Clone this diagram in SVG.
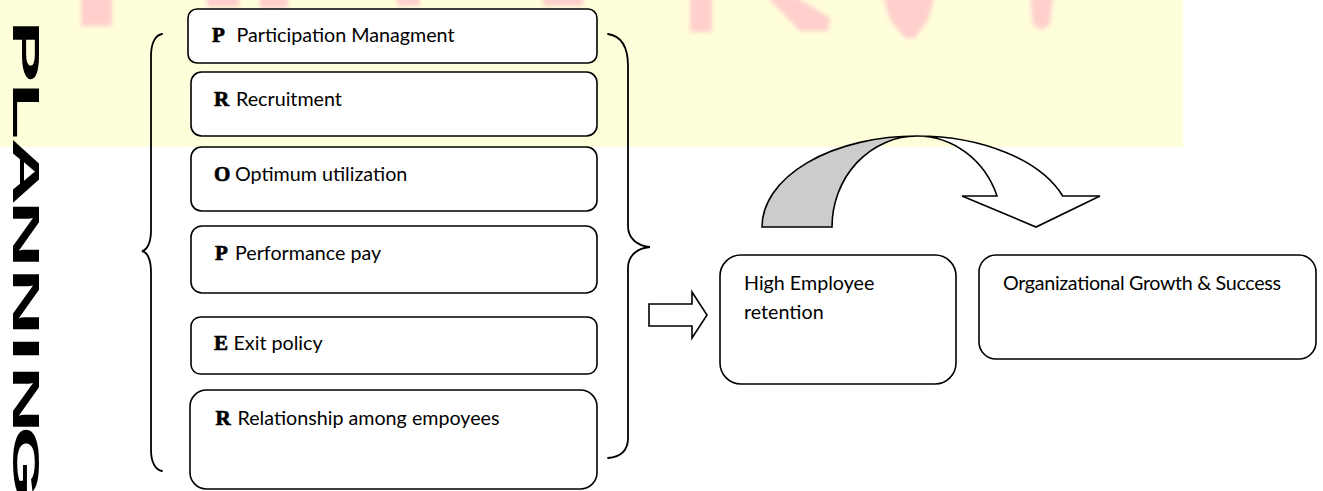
<svg xmlns="http://www.w3.org/2000/svg" width="1323" height="491" viewBox="0 0 1323 491">
  <defs>
    <filter id="soft" x="-50%" y="-50%" width="200%" height="200%">
      <feGaussianBlur stdDeviation="2.2"/>
    </filter>
    <style>
      .box { fill: #ffffff; stroke: #000000; stroke-width: 1.6; }
      .lbl { font-family: Lato, "Liberation Sans", sans-serif; font-size: 19.7px; fill: #000000; }
      .ini { font-family: "Liberation Serif", "DejaVu Serif", serif; font-weight: bold; font-size: 21px; fill: #000000; stroke: #000000; stroke-width: 0.7; }
      .brace { fill: none; stroke: #000000; stroke-width: 1.8; stroke-linecap: round; }
      .shape { stroke: #000000; stroke-width: 1.6; stroke-linejoin: miter; }
      .title { font-family: "Liberation Sans", Arial, sans-serif; font-weight: bold; font-size: 36px; fill: #000000; }
    </style>
  </defs>

  <!-- page background with the pale yellow header band -->
  <rect width="1323" height="491" fill="#ffffff"/>
  <rect x="0" y="0" width="1183" height="147" fill="#fffedb"/>

  <!-- faint pink marks along the top edge -->
  <g fill="#ffcaca" opacity="0.9" filter="url(#soft)">
    <rect x="81" y="-4" width="31" height="30"/>
    <rect x="207" y="-4" width="32" height="11"/>
    <rect x="260" y="-4" width="28" height="12"/>
    <rect x="397" y="-4" width="23" height="10"/>
    <rect x="543" y="-4" width="40" height="10"/>
    <rect x="690" y="-4" width="22" height="36"/>
    <polygon points="766,-4 795,-4 830,18 828,31 800,31"/>
    <polygon points="883,-4 935,-4 928,20 915,38 905,38 890,20"/>
    <polygon points="1030,-4 1053,-4 1050,25 1041,30 1033,25"/>
  </g>

  <!-- vertical title, stretched along its baseline, one position per letter -->
  <text id="title" class="title" transform="translate(13,0) rotate(90) scale(2.6,1)" x="7.65 31.62 52.96 77.08 103.04 129.04 140.54 163.81" y="0">PLANNING</text>

  <!-- curly braces round the list -->
  <g id="braces">
    <path class="brace" d="M162,34 C156,35 151,42 151,56 L151,230 C151,243 147,250 142,251 C147,252 151,259 151,272 L151,450 C151,463 156,470 162,471"/>
    <path class="brace" d="M608,34 C621,36 628,47 628,66 L628,226 C628,239 638,246 650,247 C638,248 628,255 628,268 L628,438 C628,451 620,457 608,458"/>
  </g>

  <!-- list items -->
  <g id="item-participation">
    <rect class="box" x="188" y="9" width="409" height="54" rx="9"/>
    <text y="42"><tspan class="ini" x="212">P</tspan><tspan class="lbl" x="236.5">Participation Managment</tspan></text>
  </g>
  <g id="item-recruitment">
    <rect class="box" x="191" y="72" width="406" height="64" rx="10.5"/>
    <text y="106"><tspan class="ini" x="214">R</tspan><tspan class="lbl" x="236">Recruitment</tspan></text>
  </g>
  <g id="item-optimum">
    <rect class="box" x="191" y="147" width="406" height="64" rx="10.5"/>
    <text y="181"><tspan class="ini" x="214">O</tspan><tspan class="lbl" x="235">Optimum utilization</tspan></text>
  </g>
  <g id="item-performance">
    <rect class="box" x="191" y="226" width="406" height="67" rx="11"/>
    <text y="260"><tspan class="ini" x="215">P</tspan><tspan class="lbl" x="235">Performance pay</tspan></text>
  </g>
  <g id="item-exit">
    <rect class="box" x="191" y="317" width="406" height="57" rx="9.5"/>
    <text y="350"><tspan class="ini" x="214">E</tspan><tspan class="lbl" x="233.5">Exit policy</tspan></text>
  </g>
  <g id="item-relationship">
    <rect class="box" x="190" y="390" width="407" height="99" rx="16.5"/>
    <text y="425"><tspan class="ini" x="215.5">R</tspan><tspan class="lbl" x="237.5">Relationship among empoyees</tspan></text>
  </g>

  <!-- outcomes -->
  <g id="retention">
    <rect class="box" x="720" y="255" width="236" height="129" rx="21"/>
    <text class="lbl" x="744" y="290">High Employee</text>
    <text class="lbl" x="744" y="319">retention</text>
  </g>
  <g id="growth">
    <rect class="box" x="979" y="255" width="337" height="104" rx="17"/>
    <text class="lbl" x="1003" y="290" textLength="278" lengthAdjust="spacing">Organizational Growth &amp; Success</text>
  </g>

  <!-- arrows -->
  <g id="connectors">
    <path class="shape" fill="#ffffff" d="M649,304 L692,304 L692,292 L707,315 L692,338 L692,326 L649,326 Z"/>
    <path class="shape" fill="#cccccc" d="M762,227 A155,91 0 0 1 917,136 A85,91 0 0 0 832,227 Z"/>
    <path class="shape" fill="#ffffff" d="M917,136 A155,91 0 0 1 1062.7,196 L1100,196 L1036,227 L962,196 L997,196 A85,91 0 0 0 917,136 Z"/>
  </g>
</svg>
